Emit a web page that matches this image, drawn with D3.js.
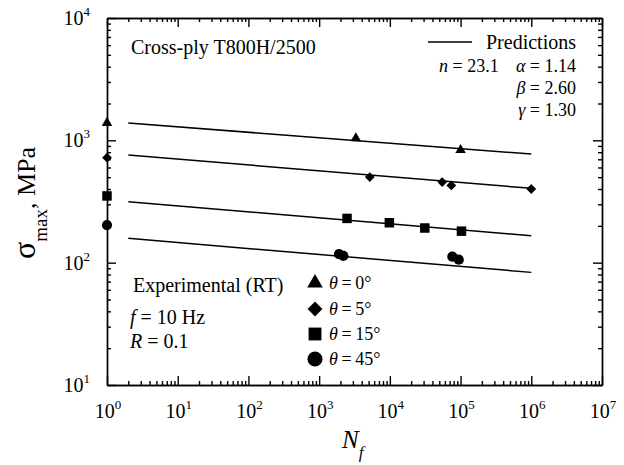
<!DOCTYPE html>
<html lang="en">
<head>
<meta charset="UTF-8">
<title>Cross-ply T800H/2500 fatigue</title>
<script src="https://d3js.org/d3.v7.min.js"></script>
<style>
  body { margin: 0; background: #fff; }
  svg { display: block; font-family: "Liberation Serif", "Times New Roman", serif; }
  .axis path, .axis line { stroke: #000; stroke-width: 1.4; }
  .pred { fill: none; stroke: #000; stroke-width: 1.5; }
  text { fill: #000; }
</style>
</head>
<body>
<svg width="624" height="465"></svg>
<script>
// data
const xDecades = [0, 1, 2, 3, 4, 5, 6, 7];
const yDecades = [1, 2, 3, 4];

const predN = [2, 1e6];
const pred0 = [1384, 773];
const pred5 = [758, 405];
const pred15 = [315, 166];
const pred45 = [158, 83.3];

const n0 = [1, 3300, 1e5];
const s0 = [1390, 1040, 833];
const n5 = [1, 5200, 55000, 74000, 1e6];
const s5 = [721, 501, 456, 428, 400];
const n15 = [1, 2480, 9840, 31200, 1.03e5];
const s15 = [351, 230, 212, 192, 181];
const n45 = [1, 1910, 2200, 76500, 94200];
const s45 = [203, 117.5, 113.8, 112, 105.7];

const legendLabels = ["0", "5", "15", "45"];

const svg = d3.select("svg");
const pLeft = 107, pRight = 602, pTop = 18, pBottom = 385;

const x = d3.scaleLog().domain([1, 1e7]).range([pLeft, pRight]);
const y = d3.scaleLog().domain([10, 1e4]).range([pBottom, pTop]);

// minor ticks 2..9 in each decade
function minors(d0, d1) {
    const out = [];
    for (let e = d0; e < d1; e++)
        for (let k = 2; k <= 9; k++) out.push(k * Math.pow(10, e));
    return out;
}
const xMinor = minors(0, 7), yMinor = minors(1, 4);
const xMajor = xDecades.map(e => Math.pow(10, e));
const yMajor = yDecades.map(e => Math.pow(10, e));

function drawAxis(axisFn, scale, pos, minor, major) {
    const g = svg.append("g").attr("class", "axis").attr("transform", pos);
    g.call(axisFn(scale).tickValues(minor).tickSize(-4).tickSizeOuter(0).tickFormat(""));
    const g2 = svg.append("g").attr("class", "axis").attr("transform", pos);
    g2.call(axisFn(scale).tickValues(major).tickSize(-9).tickSizeOuter(0).tickFormat(""));
    return g2;
}

drawAxis(d3.axisBottom, x, `translate(0,${pBottom})`, xMinor, xMajor);
drawAxis(d3.axisTop, x, `translate(0,${pTop})`, xMinor, xMajor);
drawAxis(d3.axisLeft, y, `translate(${pLeft},0)`, yMinor, yMajor);
drawAxis(d3.axisRight, y, `translate(${pRight},0)`, yMinor, yMajor);

// tick labels with superscripts
xDecades.forEach(e => {
    const t = svg.append("text")
        .attr("x", x(Math.pow(10, e)) + 1)
        .attr("y", 418)
        .attr("text-anchor", "middle")
        .style("font-size", "20px");
    t.append("tspan").text("10");
    t.append("tspan").attr("dy", -9).style("font-size", "13px").text(e);
});
yDecades.forEach(e => {
    const t = svg.append("text")
        .attr("x", 90)
        .attr("y", y(Math.pow(10, e)) + 7)
        .attr("text-anchor", "end")
        .style("font-size", "20px");
    t.append("tspan").text("10");
    t.append("tspan").attr("dy", -9).style("font-size", "13px").text(e);
});

// axis titles
const yl = svg.append("text")
    .attr("transform", "translate(35,203) rotate(-90)")
    .attr("text-anchor", "middle");
yl.append("tspan").style("font-size", "32px").text("σ");
yl.append("tspan").attr("dy", 12).style("font-size", "19px").text("max");
yl.append("tspan").attr("dy", -12).style("font-size", "26px").text(", MPa");

const xl = svg.append("text")
    .attr("x", 342)
    .attr("y", 448)
    .style("font-size", "25px")
    .style("font-style", "italic");
xl.append("tspan").text("N");
xl.append("tspan").attr("dy", 10).style("font-size", "17px").text("f");

// prediction lines
const line = d3.line().x(d => x(d[0])).y(d => y(d[1]));
[pred0, pred5, pred15, pred45].forEach(p => {
    svg.append("path")
        .attr("class", "pred")
        .attr("d", line(predN.map((n, i) => [n, p[i]])));
});

// experimental points
const shapes = [
    {n: n0, s: s0, type: d3.symbolTriangle, size: 48, rot: 0, lsize: 105},
    {n: n5, s: s5, type: d3.symbolSquare, size: 48, rot: 45, lsize: 110},
    {n: n15, s: s15, type: d3.symbolSquare, size: 90, rot: 0, lsize: 165},
    {n: n45, s: s45, type: d3.symbolCircle, size: 82, rot: 0, lsize: 180}
];
shapes.forEach(sh => {
    svg.append("g").selectAll("path")
        .data(sh.n.map((n, i) => [n, sh.s[i]]))
        .join("path")
        .attr("d", d3.symbol().type(sh.type).size(sh.size))
        .attr("transform", d => `translate(${x(d[0])},${y(d[1])}) rotate(${sh.rot})`)
        .attr("fill", "#000");
});

// annotations
svg.append("text").attr("x", 131).attr("y", 54).style("font-size", "20px")
    .text("Cross-ply T800H/2500");

svg.append("line").attr("x1", 428).attr("x2", 472).attr("y1", 42).attr("y2", 42)
    .attr("stroke", "#000").attr("stroke-width", 1.3);
svg.append("text").attr("x", 576).attr("y", 49).attr("text-anchor", "end")
    .style("font-size", "20px").text("Predictions");

const nt = svg.append("text").attr("x", 439).attr("y", 71.5).style("font-size", "18px");
nt.append("tspan").style("font-style", "italic").text("n");
nt.append("tspan").text(" = 23.1");

const params = [["α", "1.14", 71.5], ["β", "2.60", 93.5], ["γ", "1.30", 115.5]];
params.forEach(p => {
    const t = svg.append("text").attr("x", 576).attr("y", p[2])
        .attr("text-anchor", "end").style("font-size", "18px");
    t.append("tspan").style("font-style", "italic").text(p[0]);
    t.append("tspan").text(" = " + p[1]);
});

svg.append("text").attr("x", 133).attr("y", 292).style("font-size", "20px")
    .text("Experimental (RT)");

const ft = svg.append("text").attr("x", 130).attr("y", 324).style("font-size", "20px");
ft.append("tspan").style("font-style", "italic").text("f");
ft.append("tspan").text(" = 10 Hz");
const rt = svg.append("text").attr("x", 130).attr("y", 348).style("font-size", "20px");
rt.append("tspan").style("font-style", "italic").text("R");
rt.append("tspan").text(" = 0.1");

// legend for experimental symbols
const legY = [283, 309, 334, 359];
shapes.forEach((sh, i) => {
    svg.append("path")
        .attr("d", d3.symbol().type(sh.type).size(sh.lsize))
        .attr("transform", `translate(315,${legY[i]}) rotate(${sh.rot})`)
        .attr("fill", "#000");
    const t = svg.append("text").attr("x", 329).attr("y", legY[i] + 6)
        .style("font-size", "18px");
    t.append("tspan").style("font-style", "italic").text("θ");
    t.append("tspan").text("\u2009=\u2009" + legendLabels[i] + "°");
});
</script>
</body>
</html>
